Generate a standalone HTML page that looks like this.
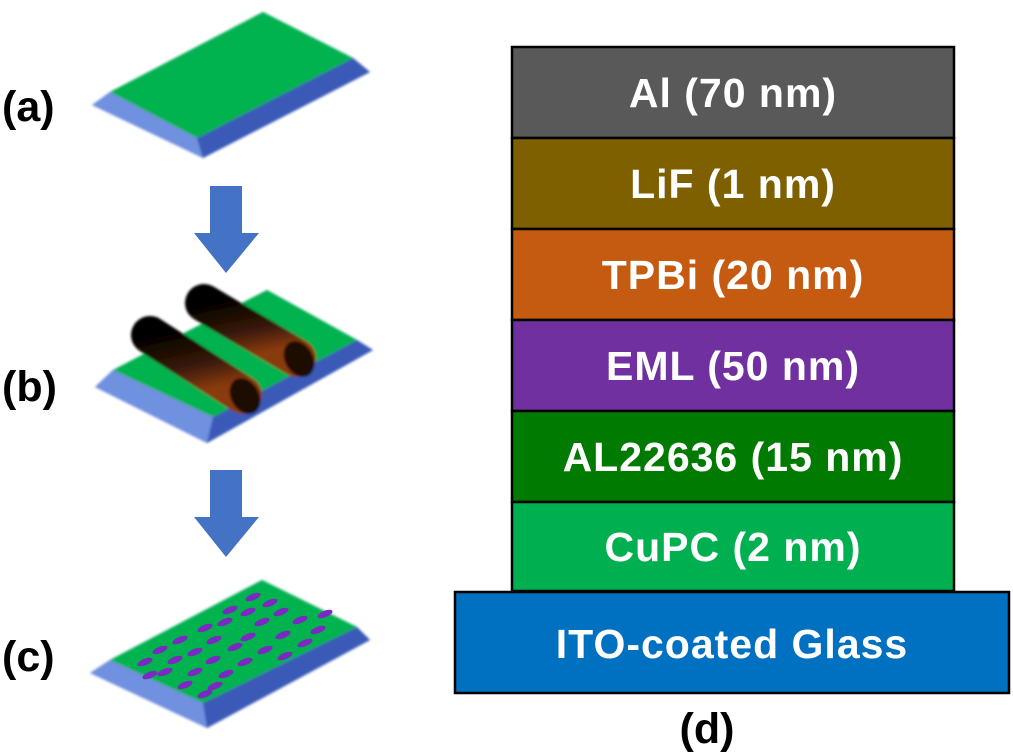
<!DOCTYPE html>
<html><head><meta charset="utf-8"><style>
html,body{margin:0;padding:0;background:#fff;}
svg{display:block;}
text{font-family:"Liberation Sans",Arial,sans-serif;font-weight:bold;}
</style></head><body>
<svg width="1013" height="754" viewBox="0 0 1013 754" xmlns="http://www.w3.org/2000/svg">
<defs>
<linearGradient id="cyl" x1="0" y1="0" x2="0.35" y2="1">
<stop offset="0" stop-color="#000"/><stop offset="0.6" stop-color="#3a1a08"/><stop offset="1" stop-color="#8a3a10"/>
</linearGradient>
<filter id="bl"><feGaussianBlur stdDeviation="1.2"/></filter>
<ellipse id="d" cx="0" cy="0" rx="8" ry="3.3" transform="rotate(-22)"/>
</defs>
<!-- slab a -->
<g filter="url(#bl)">
<polygon points="92,105 203,158 370,72 353,58 263,12 110,92" fill="#4a6cc8"/>
<polygon points="92,105 110,92 197,138 203,158" fill="#7090e0"/>
<polygon points="197,138 353,58 370,72 203,158" fill="#3a5ab8"/>
<polygon points="110,92 263,12 353,58 197,138" fill="#00b34f"/>
</g>
<!-- arrow 1 -->
<polygon points="210,186 242,186 242,233 259,233 226,273 194,233 210,233" fill="#4472c4"/>
<!-- slab b -->
<g filter="url(#bl)">
<polygon points="95,387 207,443 373,350 357,340 267,290 113,370" fill="#4a6cc8"/>
<polygon points="95,387 113,370 213,417 207,443" fill="#7090e0"/>
<polygon points="213,417 357,340 373,350 207,443" fill="#3a5ab8"/>
<polygon points="113,370 267,290 357,340 213,417" fill="#00b34f"/>
<line x1="150" y1="335" x2="243" y2="395" stroke="url(#cyl)" stroke-width="38" stroke-linecap="round"/>
<ellipse cx="245" cy="396" rx="14" ry="19" fill="#1a0a02" transform="rotate(-30 245 396)"/>
<line x1="204" y1="303" x2="297" y2="358" stroke="url(#cyl)" stroke-width="38" stroke-linecap="round"/>
<ellipse cx="299" cy="359" rx="14" ry="19" fill="#1a0a02" transform="rotate(-30 299 359)"/>
</g>
<!-- arrow 2 -->
<polygon points="210,470 242,470 242,517 259,517 226,557 194,517 210,517" fill="#4472c4"/>
<!-- slab c -->
<g filter="url(#bl)">
<polygon points="90,673 207,728 370,640 357,627 262,580 110,660" fill="#4a6cc8"/>
<polygon points="90,673 110,660 203,703 207,728" fill="#7090e0"/>
<polygon points="203,703 357,627 370,640 207,728" fill="#3a5ab8"/>
<polygon points="110,660 262,580 357,627 203,703" fill="#00b34f"/>
</g>
<g fill="#7a2ac0">
<use href="#d" x="253" y="597"/><use href="#d" x="270" y="603"/><use href="#d" x="230" y="610"/>
<use href="#d" x="248" y="612"/><use href="#d" x="281" y="612"/><use href="#d" x="300" y="620"/>
<use href="#d" x="262" y="622"/><use href="#d" x="225" y="622"/><use href="#d" x="205" y="628"/>
<use href="#d" x="318" y="630"/><use href="#d" x="283" y="635"/><use href="#d" x="248" y="637"/>
<use href="#d" x="214" y="640"/><use href="#d" x="180" y="640"/><use href="#d" x="305" y="643"/>
<use href="#d" x="235" y="647"/><use href="#d" x="265" y="650"/><use href="#d" x="160" y="650"/>
<use href="#d" x="195" y="652"/><use href="#d" x="175" y="660"/><use href="#d" x="213" y="660"/>
<use href="#d" x="245" y="662"/><use href="#d" x="285" y="656"/><use href="#d" x="165" y="672"/>
<use href="#d" x="195" y="672"/><use href="#d" x="226" y="674"/><use href="#d" x="185" y="685"/>
<use href="#d" x="215" y="686"/><use href="#d" x="145" y="662"/><use href="#d" x="150" y="675"/>
<use href="#d" x="205" y="694"/><use href="#d" x="325" y="614"/>
</g>
<!-- labels -->
<g font-size="43" fill="#000">
<text x="2" y="121">(a)</text>
<text x="2" y="401">(b)</text>
<text x="2" y="671">(c)</text>
<text x="707" y="743" text-anchor="middle">(d)</text>
</g>
<!-- layers -->
<g stroke="#000" stroke-width="2.5">
<rect x="512" y="47" width="442" height="91" fill="#595959"/>
<rect x="512" y="138" width="442" height="91" fill="#7f6000"/>
<rect x="512" y="229" width="442" height="91" fill="#c55a11"/>
<rect x="512" y="320" width="442" height="91" fill="#7030a0"/>
<rect x="512" y="411" width="442" height="91" fill="#007a00"/>
<rect x="512" y="502" width="442" height="89" fill="#00b050"/>
<rect x="455" y="592" width="554" height="101" fill="#0070c0"/>
</g>
<g font-size="41" fill="#fff" text-anchor="middle" letter-spacing="1">
<text x="733" y="107">Al (70 nm)</text>
<text x="733" y="198">LiF (1 nm)</text>
<text x="733" y="289">TPBi (20 nm)</text>
<text x="733" y="380">EML (50 nm)</text>
<text x="733" y="471">AL22636  (15 nm)</text>
<text x="733" y="561">CuPC (2 nm)</text>
<text x="732" y="658">ITO-coated Glass</text>
</g>
</svg>
</body></html>
